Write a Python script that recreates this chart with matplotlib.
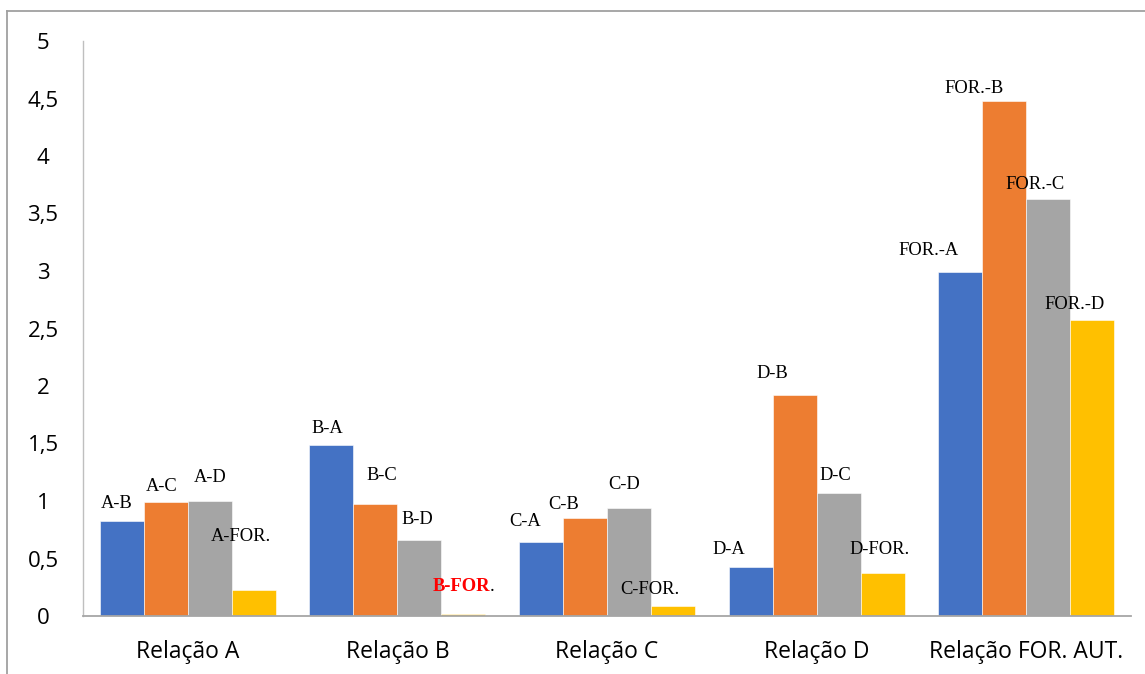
import matplotlib
matplotlib.use("Agg")
import matplotlib.pyplot as plt
import numpy as np
from matplotlib.lines import Line2D

categories = ["Relação A", "Relação B", "Relação C", "Relação D", "Relação FOR. AUT."]
series_1 = [0.83, 1.49, 0.64, 0.43, 2.99]
series_2 = [0.99, 0.975, 0.855, 1.92, 4.48]
series_3 = [1.00, 0.66, 0.94, 1.07, 3.63]
series_4 = [0.23, 0.02, 0.09, 0.375, 2.57]
labels_1 = ["A-B", "B-A", "C-A", "D-A", "FOR.-A"]
labels_2 = ["A-C", "B-C", "C-B", "D-B", "FOR.-B"]
labels_3 = ["A-D", "B-D", "C-D", "D-C", "FOR.-C"]
labels_4 = ["A-FOR.", "B-FOR", "C-FOR.", "D-FOR.", "FOR.-D"]
yticks = [0, 0.5, 1, 1.5, 2, 2.5, 3, 3.5, 4, 4.5, 5]
ytick_labels = ["0", "0,5", "1", "1,5", "2", "2,5", "3", "3,5", "4", "4,5", "5"]

colors = ["#4472C4", "#ED7D31", "#A5A5A5", "#FFC000"]

# label offsets in pixels (dx from bar centre, dy above bar top)
offsets_1 = [(-5, 17), (-4, 16), (-16, 21), (-22, 17), (-32, 22)]
offsets_2 = [(-4, 16), (6, 28), (-21, 13), (-22, 22), (-30, 12)]
offsets_3 = [(0, 24), (-2, 21), (-5, 23), (-3, 17), (-13, 14)]
offsets_4 = [(-13, 53), (2, 27), (-23, 16), (-3, 23), (-18, 16)]

W, H = 1145, 674
fig = plt.figure(figsize=(W / 100, H / 100), dpi=100)
ax = fig.add_axes([83 / W, (H - 616) / H, (1131 - 83) / W, (616 - 41) / H])

x = np.arange(len(categories))
bw = 0.21
all_series = [series_1, series_2, series_3, series_4]
all_labels = [labels_1, labels_2, labels_3, labels_4]
all_offsets = [offsets_1, offsets_2, offsets_3, offsets_4]
serif = ["Liberation Serif", "DejaVu Serif"]
px = 0.72
lfs = 13.3
for i, (vals, labs, offs) in enumerate(zip(all_series, all_labels, all_offsets)):
    xs = x + (i - 1.5) * bw
    ax.bar(xs, vals, width=bw, color=colors[i], edgecolor="white", linewidth=0.4, zorder=2)
    for xi, v, lab, (dx, dy) in zip(xs, vals, labs, offs):
        if lab == "B-FOR":
            t = ax.annotate(lab, (xi, v), xytext=(dx * px - 3, dy * px), textcoords="offset points",
                            ha="center", va="center", fontsize=lfs, color="#FF0000",
                            fontweight="bold", family=serif)
            ax.annotate(".", xy=(1, 0), xycoords=t, xytext=(0, 0), textcoords="offset points",
                        ha="left", va="bottom", fontsize=lfs, color="black", family=serif)
        else:
            ax.annotate(lab, (xi, v), xytext=(dx * px, dy * px), textcoords="offset points",
                        ha="center", va="center", fontsize=lfs, color="black", family=serif)

ax.set_xlim(-0.5, len(categories) - 0.5)
ax.set_ylim(0, 5)
ax.set_yticks(yticks)
ax.set_yticklabels(ytick_labels, fontsize=16, family="Open Sans", ha="center")
ax.set_xticks(x)
ax.set_xticklabels(categories, fontsize=16.5, family="Open Sans")
ax.tick_params(axis="y", length=0, pad=40 * px)
ax.tick_params(axis="x", length=0, pad=24 * px)
for s in ["top", "right"]:
    ax.spines[s].set_visible(False)
ax.spines["left"].set_color("#BFBFBF")
ax.spines["bottom"].set_color("#A6A6A6")
ax.spines["left"].set_linewidth(1.0)
ax.spines["bottom"].set_linewidth(1.3)

# outer frame (top and left edges)
fig.add_artist(Line2D([7 / W, 1.0], [1 - 10.5 / H, 1 - 10.5 / H], transform=fig.transFigure,
                      color="#A0A0A0", linewidth=1.3))
fig.add_artist(Line2D([7 / W, 7 / W], [1 - 10.5 / H, 0], transform=fig.transFigure,
                      color="#A0A0A0", linewidth=1.3))

fig.savefig("out.png", dpi=100)
